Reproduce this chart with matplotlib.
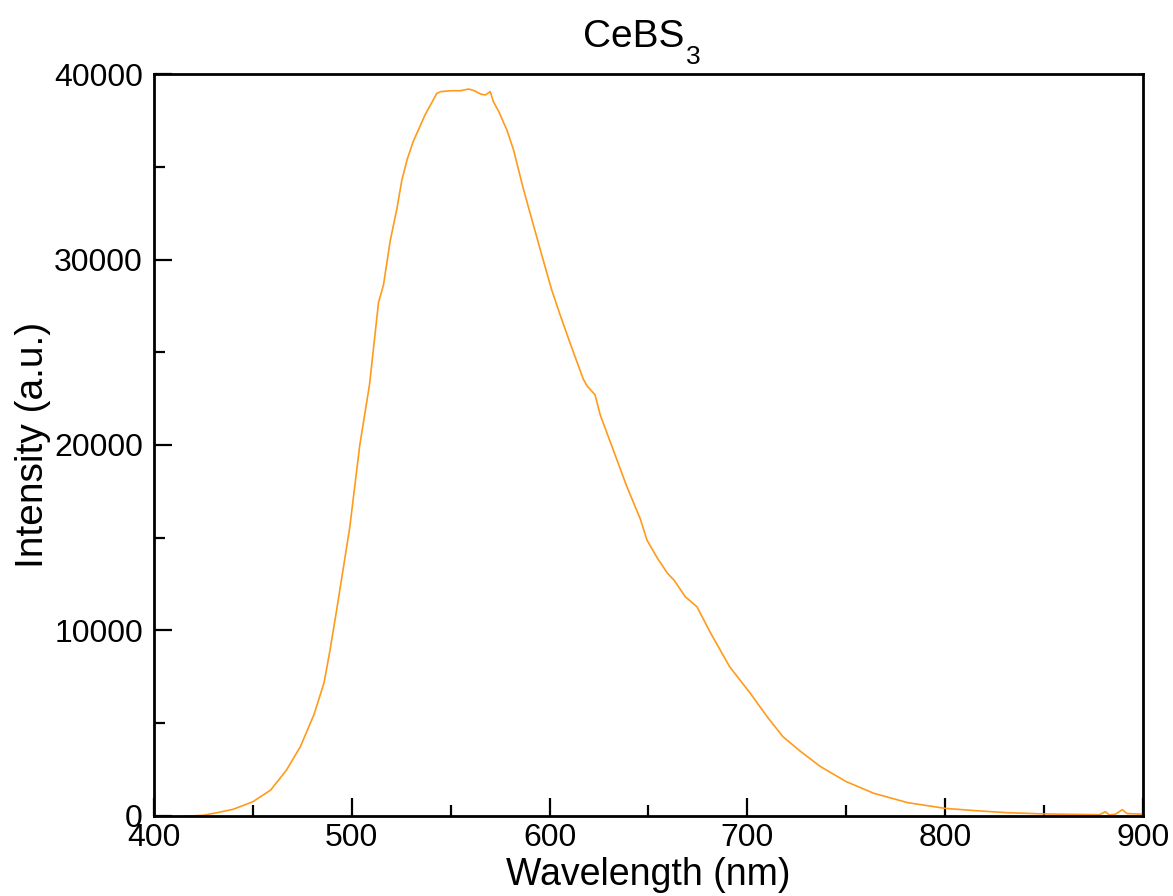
import numpy as np
import matplotlib
matplotlib.use("Agg")
import matplotlib.pyplot as plt
from matplotlib import rcParams
from matplotlib.ticker import MultipleLocator

# emission spectrum
wavelength = [415, 420, 425, 432, 440, 450, 459, 467, 474, 481, 486, 489,
              492.4, 499, 504, 509, 513.5, 516, 519.4, 522.8, 525.3, 528,
              531, 537, 543, 545, 550, 555, 559, 562, 565, 567.5, 570,
              571.6, 574.2, 578.4, 581.8, 586.5, 591.8, 596.9, 601, 605.3,
              610.4, 617, 619, 623, 625.6, 632.3, 639, 645.8, 649.2, 654.5,
              659.5, 663, 668.6, 674.5, 681, 691, 701.5, 710, 718, 727, 737,
              750, 764, 781, 800, 815, 831, 850, 878, 881, 883, 886, 889.5,
              892, 899, 900]
intensity = [0, 10, 40, 180, 360, 770, 1400, 2480, 3740, 5500, 7200, 8950,
             11150, 15580, 19970, 23290, 27680, 28620, 31000, 32740, 34280, 35400,
             36350, 37790, 38960, 39050, 39100, 39100, 39190, 39100, 38920, 38870, 39050,
             38500, 38000, 36980, 35900, 33900, 31860, 29920, 28380, 27020,
             25480, 23560, 23180, 22700, 21620, 19700, 17770, 16030, 14880, 13900,
             13100, 12700, 11820, 11280, 9940, 8050, 6610, 5350, 4270, 3470, 2660,
             1850, 1220, 720, 410, 290, 180, 110, 70, 230, 60, 90, 340,
             130, 100, 150]

rcParams['font.family'] = ['Liberation Sans', 'DejaVu Sans']

fig = plt.figure(figsize=(11.73, 8.96), dpi=100)
ax = fig.add_axes([0.1313, 0.0893, 0.8431, 0.8281])

ax.plot(wavelength, intensity, color='#ff9a1a', lw=1.2)

ax.set_xlim(400, 900)
ax.set_ylim(0, 40000)
ax.xaxis.set_major_locator(MultipleLocator(100))
ax.xaxis.set_minor_locator(MultipleLocator(50))
ax.yaxis.set_major_locator(MultipleLocator(10000))
ax.yaxis.set_minor_locator(MultipleLocator(5000))

ax.tick_params(which='both', direction='in', width=1.6, labelsize=23)
ax.tick_params(which='major', length=13)
ax.tick_params(which='minor', length=8)
ax.tick_params(axis='x', which='major', pad=5)
ax.tick_params(axis='y', which='major', pad=8)
for s in ax.spines.values():
    s.set_linewidth(2)

ax.set_xlabel('Wavelength (nm)', fontsize=27, labelpad=3)
ax.set_ylabel('Intensity (a.u.)', fontsize=28, labelpad=2)

# title with a low, fairly large subscript as in the original
title = ax.text(0.485, 1 + 27 / 742, 'CeBS', fontsize=28, ha='center',
                va='baseline', transform=ax.transAxes)
ax.annotate('3', xy=(1, 0), xycoords=title, xytext=(1, -6.5),
            textcoords='offset points', fontsize=19, ha='left', va='baseline')

fig.savefig('out.png', dpi=100)
